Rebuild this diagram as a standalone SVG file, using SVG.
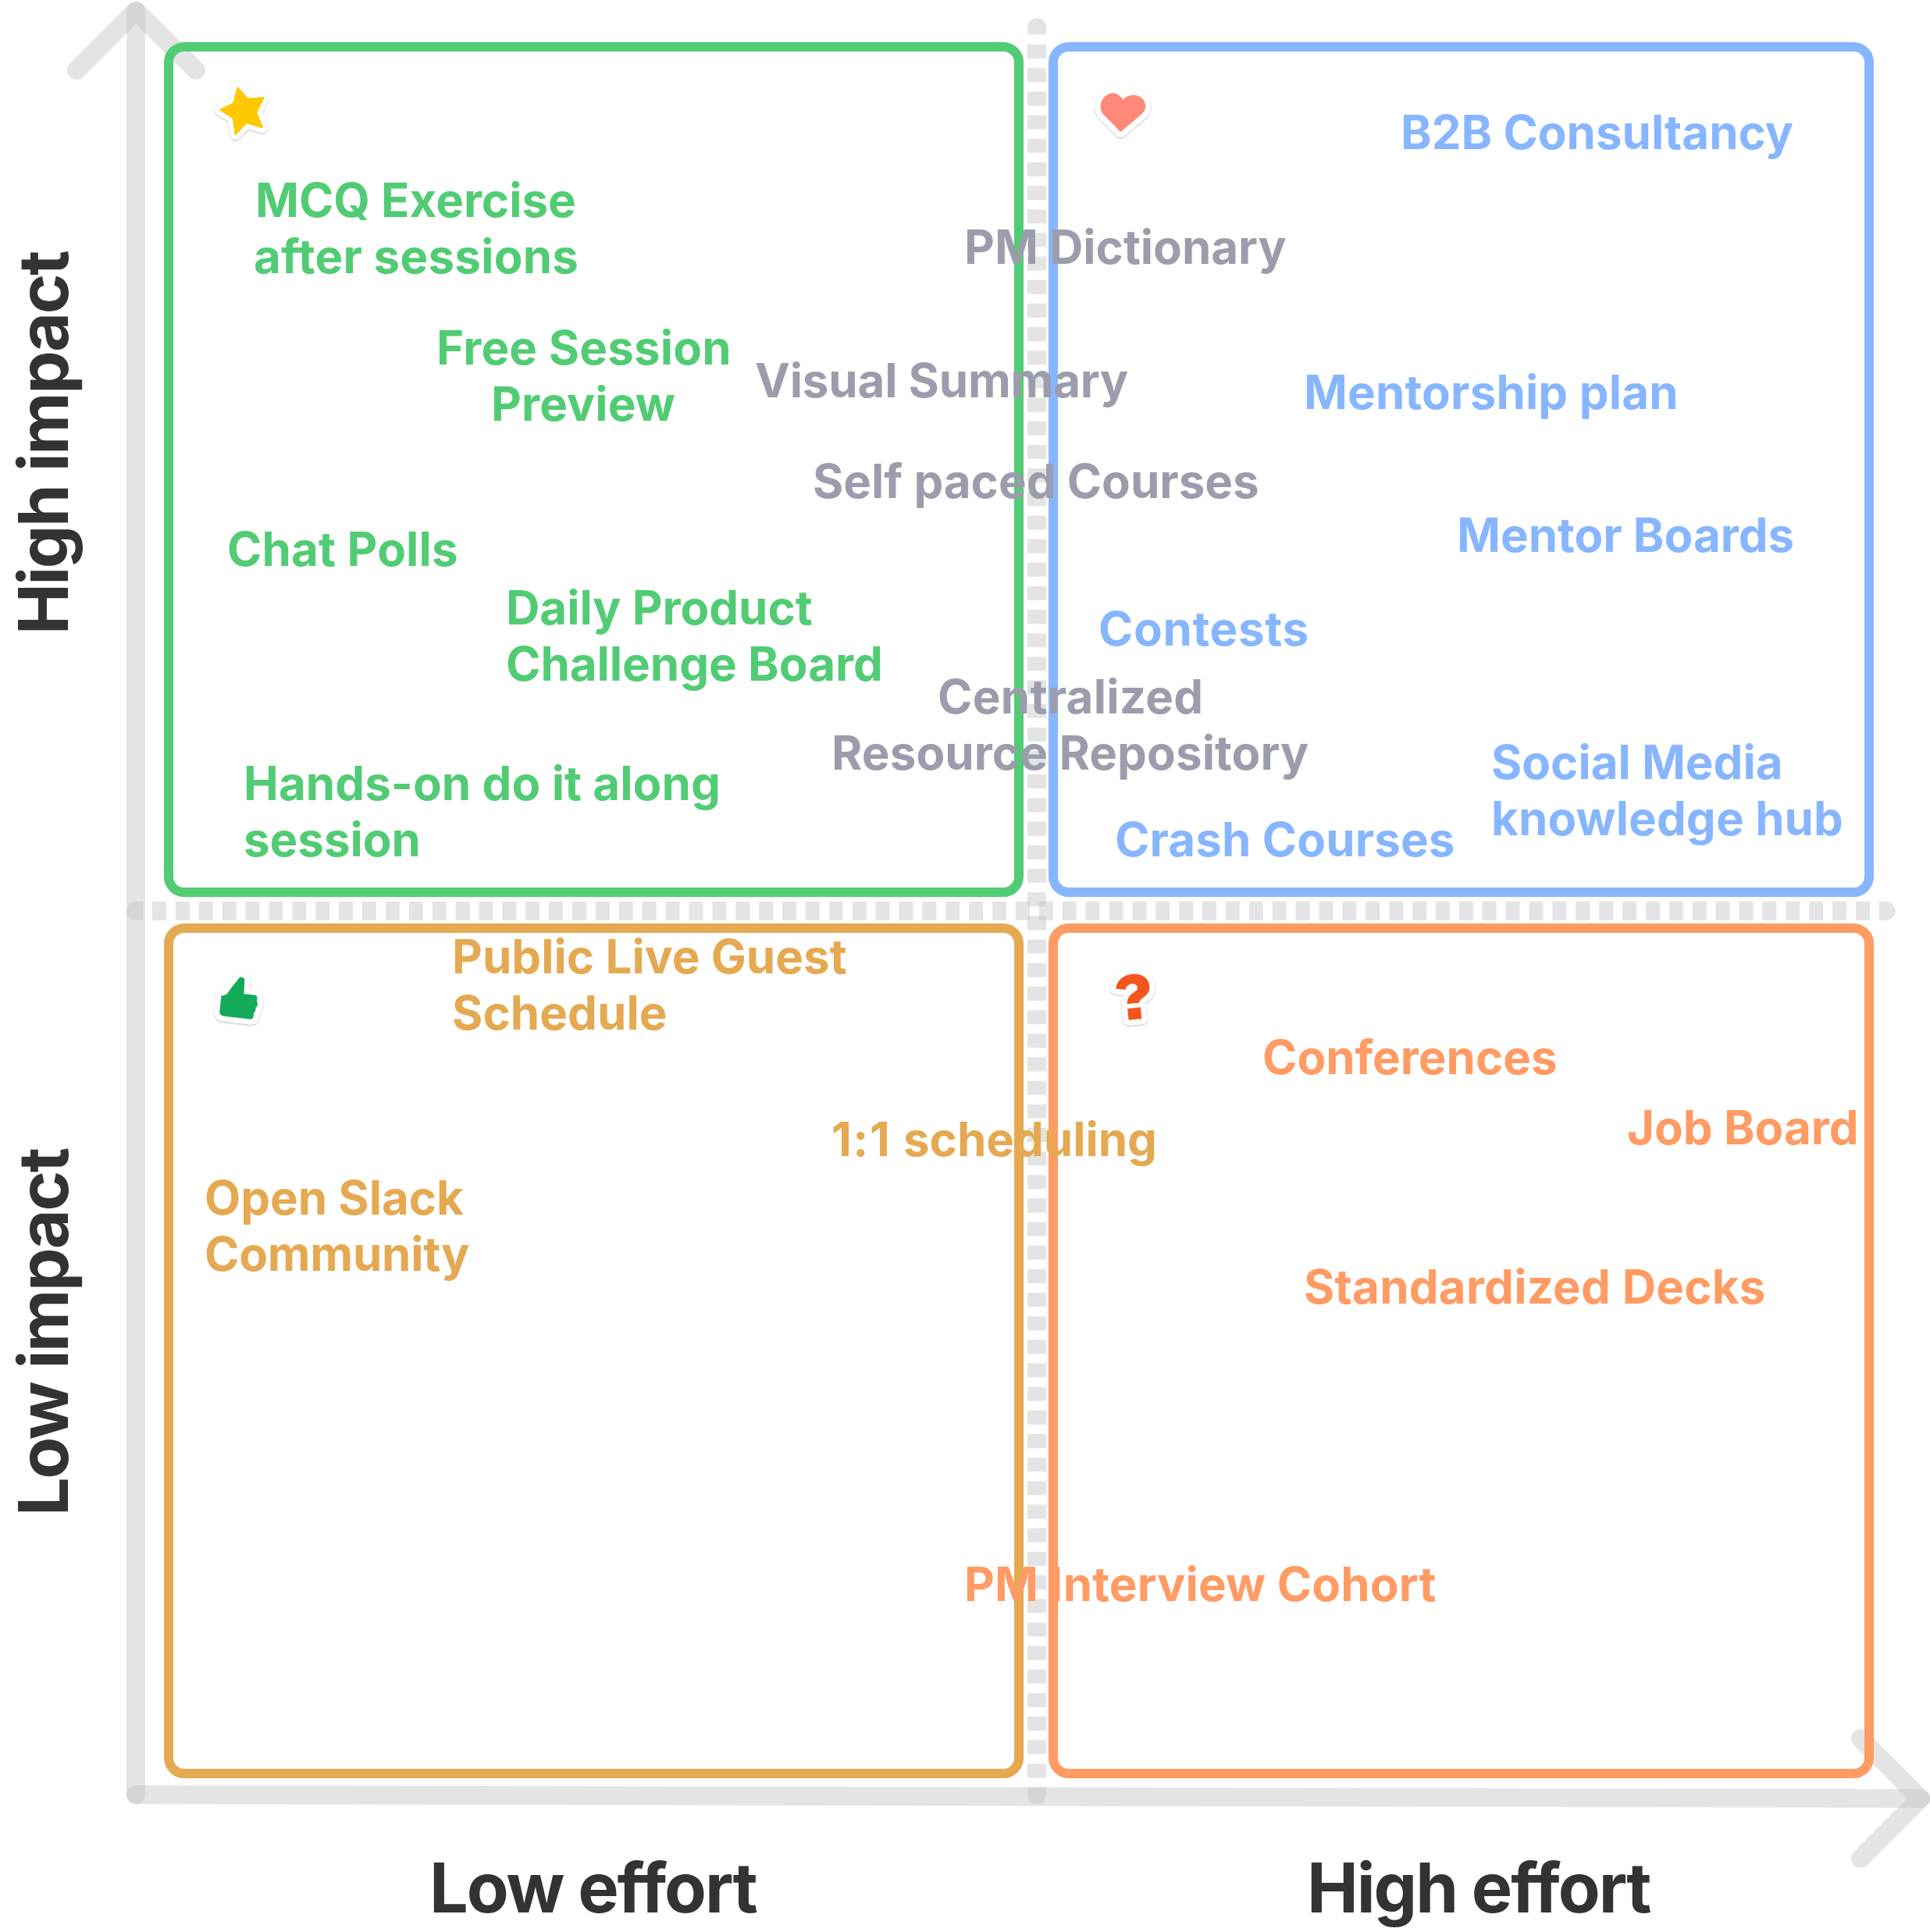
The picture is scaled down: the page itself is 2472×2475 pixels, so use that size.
<svg xmlns="http://www.w3.org/2000/svg" width="2472" height="2475" viewBox="0 0 2472 2475">
<style>
.ax{fill:none;stroke:#c2c2c2;stroke-opacity:.44;stroke-width:24;stroke-linecap:round;stroke-linejoin:round}
.ds{fill:none;stroke:#c2c2c2;stroke-opacity:.44;stroke-width:24}
.cap{fill:#c2c2c2;fill-opacity:.44}
.box{fill:none;stroke-width:12}
text{font-family:"Inter","Liberation Sans",sans-serif;font-weight:700;font-size:60px}
.axl{font-size:88px;fill:#333;letter-spacing:-2px}
.rot{letter-spacing:-2.4px}
.g{fill:#51cc74}.b{fill:#87b6ff}.y{fill:#e4a951}.o{fill:#ff9b63}.n{fill:#9b9cac}
.halo{fill:#fff;stroke:#fff;stroke-width:42;stroke-linejoin:round;filter:url(#sh)}
</style>
<defs>
<filter id="sh" x="-30%" y="-30%" width="160%" height="160%"><feDropShadow dx="0" dy="3" stdDeviation="3" flood-color="#000" flood-opacity=".3"/></filter>
</defs>
<rect width="2472" height="2475" fill="#fff"/>
<g id="connectors">
<path class="ax" d="M174 2299V14"/>
<path class="ax" d="M98 90L174 14L251 90"/>
<path class="ax" d="M174 2299L2460 2304"/>
<path class="ax" d="M2383 2227L2460 2304L2383 2381"/>
<path class="ds" d="M1328 57V2290" stroke-dasharray="18.1 12.07"/>
<path class="cap" d="M1316 44V35.3A12 12 0 0 1 1340 35.3V44Z"/>
<path class="cap" d="M1316 2290V2299A12 12 0 0 0 1340 2299V2290Z"/>
<path class="ds" d="M195 1167H2407" stroke-dasharray="17.93 11.96"/>
<path class="cap" d="M183 1155H174A12 12 0 0 0 174 1179H183Z"/>
<path class="cap" d="M2407 1155H2415.7A12 12 0 0 1 2415.7 1179H2407Z"/>
</g>
<g id="quadrant-green"><rect class="box" x="216" y="60" width="1089" height="1083" rx="20" stroke="#51cc74"/></g>
<g id="quadrant-blue"><rect class="box" x="1349" y="60" width="1045" height="1083" rx="20" stroke="#87b6ff"/></g>
<g id="quadrant-yellow"><rect class="box" x="216" y="1189" width="1089" height="1083" rx="20" stroke="#e4a951"/></g>
<g id="quadrant-orange"><rect class="box" x="1349" y="1189" width="1045" height="1083" rx="20" stroke="#ff9b63"/></g>
<g id="icon-star" transform="translate(60 0) scale(.33333)">
<path class="halo" d="M733 337L772 380L832 376L805 432L828 490L767 472L725 516L716 454L666 422L718 397Z"/>
<path d="M733 337L772 380L832 376L805 432L828 490L767 472L725 516L716 454L666 422L718 397Z" fill="#ffc800" stroke="#ffc800" stroke-width="6" stroke-linejoin="round"/>
</g>
<g id="icon-heart" transform="translate(1250 0) scale(.33333)">
<path class="halo" d="M566 384C578 368 600 362 618 367C640 373 654 392 651 413C649 425 643 433 635 440L556 507L490 440C480 428 476 412 481 395C487 372 510 356 530 358C545 360 557 372 566 384Z"/>
<path d="M566 384C578 368 600 362 618 367C640 373 654 392 651 413C649 425 643 433 635 440L556 507L490 440C480 428 476 412 481 395C487 372 510 356 530 358C545 360 557 372 566 384Z" fill="#ff8878"/>
</g>
<g id="icon-thumb" transform="translate(150 1120) scale(.33333)">
<path class="halo" d="M394 527L400 467L420 462L440 435L464 405C470 393 485 392 490 405L487 460L530 464C540 466 540 482 536 487C542 495 541 508 532 513C534 522 530 530 524 534C526 545 523 557 515 557L410 545C400 544 393 538 394 527Z"/>
<path d="M394 527L400 467L420 462L440 435L464 405C470 393 485 392 490 405L487 460L530 464C540 466 540 482 536 487C542 495 541 508 532 513C534 522 530 530 524 534C526 545 523 557 515 557L410 545C400 544 393 538 394 527Z" fill="#12ab5a"/>
</g>
<g id="icon-question" transform="translate(1240 1100) scale(.33333)">
<path class="halo" d="M568 500C572 462 605 443 640 443C675 443 699 465 697 498C695 525 670 533 660 545L657 554L611 558C610 530 630 518 645 508C655 500 653 482 632 481C617 481 608 490 605 503ZM612 577L662 571L667 615L617 620Z"/>
<path d="M568 500C572 462 605 443 640 443C675 443 699 465 697 498C695 525 670 533 660 545L657 554L611 558C610 530 630 518 645 508C655 500 653 482 632 481C617 481 608 490 605 503ZM612 577L662 571L667 615L617 620Z" fill="#f5541d"/>
</g>
<g id="items-green">
<text class="g" x="327" y="278">MCQ Exercise</text>
<text class="g" x="325" y="350" letter-spacing=".25">after sessions</text>
<text class="g" x="559" y="467" letter-spacing=".2">Free Session</text>
<text class="g" x="629" y="539" letter-spacing=".2">Preview</text>
<text class="g" x="291" y="725" letter-spacing=".17">Chat Polls</text>
<text class="g" x="648" y="800">Daily Product</text>
<text class="g" x="648" y="872">Challenge Board</text>
<text class="g" x="312" y="1025" letter-spacing=".08">Hands-on do it along</text>
<text class="g" x="312" y="1097">session</text>
</g>
<g id="items-blue">
<text class="b" x="1794" y="191">B2B Consultancy</text>
<text class="b" x="1670" y="524" letter-spacing=".17">Mentorship plan</text>
<text class="b" x="1866" y="707">Mentor Boards</text>
<text class="b" x="1407" y="827" letter-spacing=".67">Contests</text>
<text class="b" x="1910" y="998">Social Media</text>
<text class="b" x="1910" y="1070" letter-spacing=".13">knowledge hub</text>
<text class="b" x="1428" y="1097" letter-spacing=".13">Crash Courses</text>
</g>
<g id="items-gray">
<text class="n" x="1235" y="338">PM Dictionary</text>
<text class="n" x="967" y="509" letter-spacing="-.12">Visual Summary</text>
<text class="n" x="1041" y="638">Self paced Courses</text>
<text class="n" x="1201" y="914" letter-spacing=".3">Centralized</text>
<text class="n" x="1065" y="986" letter-spacing=".12">Resource Repository</text>
</g>
<g id="items-yellow">
<text class="y" x="579" y="1247" letter-spacing=".05">Public Live Guest</text>
<text class="y" x="579" y="1319" letter-spacing=".1">Schedule</text>
<text class="y" x="1065" y="1481"><tspan letter-spacing="1.5">1:1 </tspan>scheduling</text>
<text class="y" x="262" y="1556">Open Slack</text>
<text class="y" x="262" y="1628" letter-spacing="-.2">Community</text>
</g>
<g id="items-orange">
<text class="o" x="1617" y="1376">Conferences</text>
<text class="o" x="2084" y="1466">Job Board</text>
<text class="o" x="1670" y="1670" letter-spacing=".25">Standardized Decks</text>
<text class="o" x="1235" y="2051" letter-spacing=".2">PM Interview Cohort</text>
</g>
<g id="axis-labels">
<text class="axl rot" transform="translate(87 813) rotate(-90)">High impact</text>
<text class="axl rot" transform="translate(87 1942) rotate(-90)">Low impact</text>
<text class="axl" x="550" y="2450">Low effort</text>
<text class="axl" x="1674" y="2450">High effort</text>
</g>
</svg>
